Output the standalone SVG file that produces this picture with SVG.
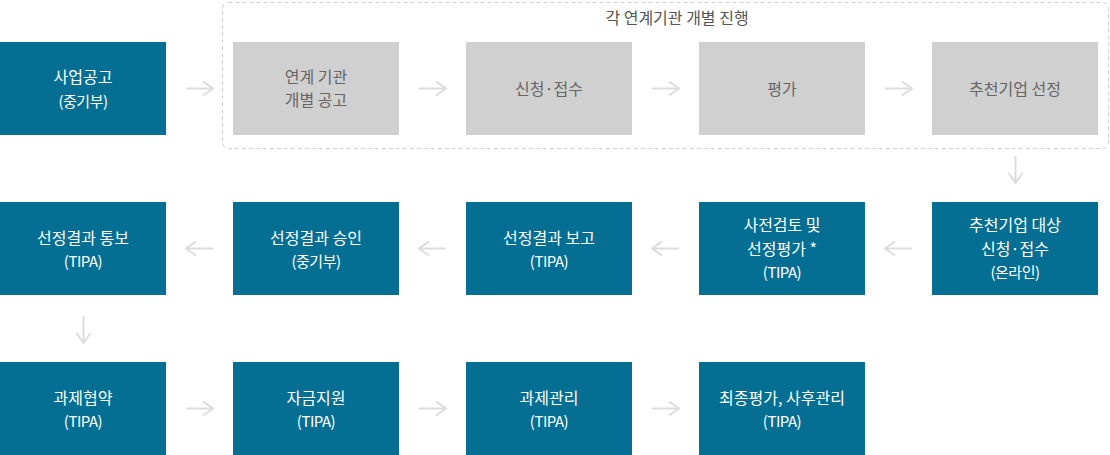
<svg xmlns="http://www.w3.org/2000/svg" width="1110" height="455" viewBox="0 0 1110 455">
<defs>
<style>
.b rect{fill:#056f93}
.g rect{fill:#d0d0d0}
text{font-family:"Noto Sans CJK KR","Noto Sans",sans-serif;text-anchor:middle}
.b text{fill:#fff;font-size:16px}
.b text.s{font-size:15px;letter-spacing:-0.5px}
.g text{fill:#666;font-size:16px}
.lbl{fill:#555;font-size:16px}
.ar path{fill:none;stroke:#dcdcdc;stroke-width:2}
</style>
<marker id="ah" viewBox="0 0 12 16" refX="11" refY="8" markerWidth="12" markerHeight="16" markerUnits="userSpaceOnUse" orient="auto"><path d="M1 1 L11 8 L1 15" fill="none" stroke="#dcdcdc" stroke-width="2"/></marker>
</defs>
<rect x="222.5" y="2.5" width="886" height="146" rx="6" fill="none" stroke="#cfcfcf" stroke-dasharray="4 3"/>
<text class="lbl" x="677" y="24">각 연계기관 개별 진행</text>
<g id="n1" class="b"><rect x="0" y="42" width="166" height="93"/><text x="83" y="83">사업공고</text><text class="s" x="83" y="107">(중기부)</text></g>
<g id="n2" class="g"><rect x="233" y="42" width="166" height="93"/><text x="316" y="83">연계 기관</text><text x="316" y="106">개별 공고</text></g>
<g id="n3" class="g"><rect x="466" y="42" width="166" height="93"/><text x="549" y="95">신청·접수</text></g>
<g id="n4" class="g"><rect x="699" y="42" width="166" height="93"/><text x="782" y="95">평가</text></g>
<g id="n5" class="g"><rect x="932" y="42" width="166" height="93"/><text x="1015" y="95">추천기업 선정</text></g>
<g id="n6" class="b"><rect x="932" y="202" width="166" height="93"/><text x="1015" y="231">추천기업 대상</text><text x="1015" y="255">신청·접수</text><text class="s" x="1015" y="278">(온라인)</text></g>
<g id="n7" class="b"><rect x="699" y="202" width="166" height="93"/><text x="782" y="231">사전검토 및</text><text x="782" y="255">선정평가 *</text><text class="s" x="782" y="278">(TIPA)</text></g>
<g id="n8" class="b"><rect x="466" y="202" width="166" height="93"/><text x="549" y="244">선정결과 보고</text><text class="s" x="549" y="267">(TIPA)</text></g>
<g id="n9" class="b"><rect x="233" y="202" width="166" height="93"/><text x="316" y="244">선정결과 승인</text><text class="s" x="316" y="267">(중기부)</text></g>
<g id="n10" class="b"><rect x="0" y="202" width="166" height="93"/><text x="83" y="244">선정결과 통보</text><text class="s" x="83" y="267">(TIPA)</text></g>
<g id="n11" class="b"><rect x="0" y="362" width="166" height="93"/><text x="83" y="404">과제협약</text><text class="s" x="83" y="427">(TIPA)</text></g>
<g id="n12" class="b"><rect x="233" y="362" width="166" height="93"/><text x="316" y="404">자금지원</text><text class="s" x="316" y="427">(TIPA)</text></g>
<g id="n13" class="b"><rect x="466" y="362" width="166" height="93"/><text x="549" y="404">과제관리</text><text class="s" x="549" y="427">(TIPA)</text></g>
<g id="n14" class="b"><rect x="699" y="362" width="166" height="93"/><text x="782" y="404">최종평가, 사후관리</text><text class="s" x="782" y="427">(TIPA)</text></g>
<g id="connectors" class="ar">
<path d="M186 88.5 H213" marker-end="url(#ah)"/>
<path d="M419 88.5 H446" marker-end="url(#ah)"/>
<path d="M652 88.5 H679" marker-end="url(#ah)"/>
<path d="M885 88.5 H912" marker-end="url(#ah)"/>
<path d="M1015.5 156 V183" marker-end="url(#ah)"/>
<path d="M912 248.5 H885" marker-end="url(#ah)"/>
<path d="M679 248.5 H652" marker-end="url(#ah)"/>
<path d="M446 248.5 H419" marker-end="url(#ah)"/>
<path d="M213 248.5 H186" marker-end="url(#ah)"/>
<path d="M83.5 316 V343" marker-end="url(#ah)"/>
<path d="M186 408.5 H213" marker-end="url(#ah)"/>
<path d="M419 408.5 H446" marker-end="url(#ah)"/>
<path d="M652 408.5 H679" marker-end="url(#ah)"/>
</g>
</svg>
